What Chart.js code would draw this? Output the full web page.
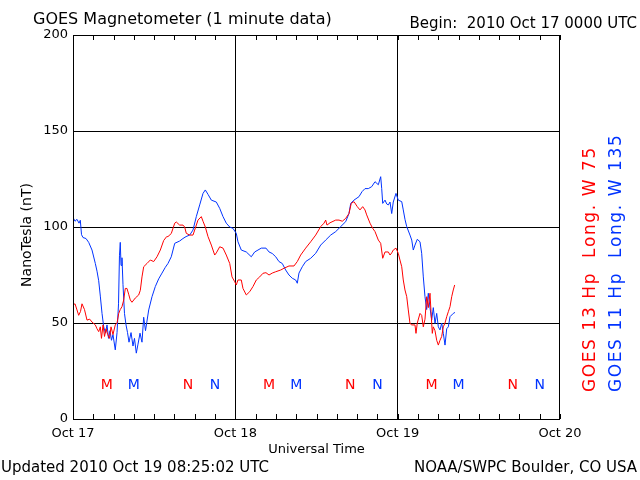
<!DOCTYPE html>
<html>
<head>
<meta charset="utf-8">
<title>GOES Magnetometer</title>
<script src="https://cdn.jsdelivr.net/npm/chart.js@4.4.1/dist/chart.umd.min.js"></script>
<style>
    html, body { margin: 0; padding: 0; background: #fff; }
    canvas { display: block; }
</style>
</head>
<body>
<canvas id="magChart" width="640" height="480"></canvas>
<script>
// Hours since 2010 Oct 17 00:00 UT, values in nT
const dayLabels = ['Oct 17', 'Oct 18', 'Oct 19', 'Oct 20'];

const redHours = [0,0.30,0.59,0.84,1.11,1.33,1.70,2.07,2.47,2.81,
    3.30,3.55,3.80,4.04,4.21,4.44,4.66,4.88,5.13,5.40,
    5.62,5.91,6.25,6.51,6.76,6.99,7.24,7.50,7.73,7.98,
    8.23,8.47,8.72,9.21,9.71,9.95,10.20,10.45,10.94,11.43,
    11.93,12.42,12.91,13.41,13.85,14.04,14.53,15.04,15.27,15.77,
    16.26,16.51,16.75,17.25,17.74,17.99,18.48,18.97,19.22,19.56,
    19.96,20.45,20.95,21.19,21.69,22.18,22.66,23.17,23.51,23.91,
    24.14,24.39,24.88,25.13,25.62,26.12,26.61,27.10,27.60,28.09,
    28.53,28.98,29.46,29.97,30.71,31.19,31.93,32.67,33.16,33.66,
    34.40,35.14,35.88,36.62,37.11,37.36,37.55,38.00,38.84,39.33,
    39.81,40.32,40.80,41.14,41.54,42.03,42.43,42.83,43.17,43.42,
    43.91,44.31,44.65,45.14,45.49,45.79,46.13,46.62,46.87,47.12,
    47.35,47.75,48.09,48.34,48.60,48.83,49.08,49.34,49.57,49.82,
    50.08,50.56,50.71,50.90,51.30,51.55,51.79,52.04,52.29,52.53,
    52.78,52.93,53.12,53.27,53.52,53.77,54.01,54.26,54.51,54.75,
    55.00,55.25,55.49,55.74,55.99,56.22,56.43];
const redValues = [59.4,60,56.8,54,56,60,57,51.5,52,50.5,
    49,47,45.5,48,42,49,43,47,44,42,
    48,44,49,50,55,57,58.5,62,68,68,
    65,62,60.8,63,64.6,67,74,79.3,81,82.8,
    82,84.5,88,93,95,95,96.6,102,102.6,101,
    101,100,96.7,95.8,95.8,98.4,103.6,105.4,103,100,
    95,90.6,85.4,86.5,89.7,89,85.4,81,74,71.5,
    69.8,72.4,72.4,68,64.6,66.3,69,72.4,74,75.9,
    76.2,75,76,76.7,77.6,78.5,79.7,79.7,82,85.4,
    89,92.3,95.8,100.2,102,103.6,101,102.2,103.6,103.6,
    103,104.5,107,112.3,113.2,110.6,108.9,110.6,108.9,106.3,
    102,99.3,97.6,93.2,91.5,83.7,87,87,85.4,86.5,
    88,89,86.3,82.8,79.3,72.4,67.2,63.7,56.8,49.8,
    49,49,44.6,50,55,54,48,52,63.7,58,
    65.5,56,44.6,48,46,41,38.5,41,43,48,
    50,53.3,55.9,58.5,63.7,67.2,69.8];

const blueHours = [0,0.30,0.59,0.89,1.08,1.26,1.48,1.92,2.32,2.81,
    3.30,3.55,3.80,4.04,4.29,4.54,4.80,5.03,5.25,5.47,
    5.69,5.91,6.25,6.51,6.73,6.87,6.99,7.10,7.24,7.39,
    7.61,7.84,8.06,8.28,8.58,8.87,9.09,9.36,9.61,9.91,
    10.20,10.45,10.72,11.19,11.68,12.17,12.67,13.16,13.65,14.04,
    14.53,15.04,15.77,16.26,16.71,17.25,17.74,18.23,18.73,19.22,
    19.56,19.96,20.45,21.19,21.69,22.18,22.66,23.17,23.65,24.14,
    24.39,24.88,25.62,26.36,26.86,27.35,27.84,28.53,28.98,29.46,
    29.97,30.45,30.94,31.44,31.93,32.42,32.92,33.16,33.41,33.90,
    34.40,35.14,35.88,36.62,37.36,38.10,38.84,39.58,40.32,40.80,
    41.06,41.54,42.28,42.73,43.17,43.66,44.16,44.65,45.14,45.49,
    45.64,45.79,46.13,46.38,46.62,46.87,47.12,47.35,47.75,48.09,
    48.60,48.83,49.08,49.34,49.82,50.08,50.31,50.56,50.90,51.30,
    51.55,51.79,52.04,52.29,52.53,52.78,53.03,53.27,53.52,53.77,
    54.01,54.26,54.51,54.75,55.00,55.25,55.49,55.74,56.22,56.47];
const blueValues = [105,103,104,102,103.5,96,94.5,94,92,88,
    81,77,72,64,55,48,44.7,49,42,46,
    41,44,36,45,60,85,92,80,84,70,
    55,49,45,40,45,38,42,34.3,39,44.7,
    40,53,46,56.8,63.7,69,73,76,79,81,
    84.5,91.5,92.7,94,95,95.8,98.4,105.4,111.5,117.5,
    119.3,117,114,113,109.7,105.4,102,100,99.3,96.7,
    92.3,88,87,84.5,87,88,89,89,87,86.2,
    84.5,82,81,77.6,75,73.3,72.4,70.7,76,79.3,
    82,83.7,86.3,90.6,93.2,95.8,97.6,100.2,102.8,107,
    112.3,114,115.8,118.4,120,120,121,123.6,122,126.2,
    120,112.3,114,112,111.5,113,107,113,117.5,114,
    113.2,108.9,104,100.2,95.8,93.2,88,90.6,93.6,92.3,
    86.3,74,63.7,57,65.5,58,51.6,58,49.8,55,
    48,46.4,50,44.6,38.5,47,48,53.3,55,55.5];

// local midnight (M) / noon (N) for each satellite
const redMarkHours = [5, 17, 29, 41, 53, 65];
const blueMarkHours = [9, 21, 33, 45, 57, 69];
const markLabels = ['M', 'N', 'M', 'N', 'M', 'N'];
const markValue = 17.7;

const RED = '#ff0000';
const BLUE = '#0033ff';
const FONT = '"DejaVu Sans", sans-serif';

const toPoints = (hours, values) => hours.map((h, i) => ({ x: h, y: values[i] }));

// frame, minor ticks, M/N marks and all the free text
const decorations = {
    id: 'decorations',
    afterDraw(chart) {
        const { ctx, chartArea: a, scales } = chart;
        ctx.save();
        ctx.strokeStyle = '#000';
        ctx.lineWidth = 1;
        ctx.strokeRect(a.left + 0.5, a.top + 0.5, a.right - a.left - 1, a.bottom - a.top);

        ctx.beginPath();
        scales.x.ticks.forEach(t => {
            const px = Math.round(scales.x.getPixelForValue(t.value)) + 0.5;
            ctx.moveTo(px, a.bottom);
            ctx.lineTo(px, a.bottom - 5);
            ctx.moveTo(px, a.top);
            ctx.lineTo(px, a.top + 5);
        });
        ctx.stroke();

        ctx.font = '14px ' + FONT;
        ctx.textAlign = 'center';
        ctx.textBaseline = 'middle';
        const my = scales.y.getPixelForValue(markValue);
        redMarkHours.forEach((h, i) => {
            ctx.fillStyle = RED;
            ctx.fillText(markLabels[i], scales.x.getPixelForValue(h), my);
        });
        blueMarkHours.forEach((h, i) => {
            ctx.fillStyle = BLUE;
            ctx.fillText(markLabels[i], scales.x.getPixelForValue(h), my);
        });

        ctx.fillStyle = '#000';
        ctx.textBaseline = 'alphabetic';
        ctx.font = '16px ' + FONT;
        ctx.textAlign = 'left';
        ctx.fillText('GOES Magnetometer (1 minute data)', 33, 24);
        ctx.font = '15px ' + FONT;
        ctx.textAlign = 'right';
        ctx.fillText('Begin:  2010 Oct 17 0000 UTC', 637, 28);

        ctx.textAlign = 'left';
        ctx.fillText('Updated 2010 Oct 19 08:25:02 UTC', 1, 472);
        ctx.textAlign = 'right';
        ctx.fillText('NOAA/SWPC Boulder, CO USA', 637, 472);

        ctx.font = '13px ' + FONT;
        ctx.textAlign = 'center';
        ctx.fillText('Universal Time', (a.left + a.right) / 2, 453);

        ctx.save();
        ctx.translate(27, 235);
        ctx.rotate(-Math.PI / 2);
        ctx.font = '14px ' + FONT;
        ctx.textAlign = 'center';
        ctx.textBaseline = 'middle';
        ctx.fillText('NanoTesla (nT)', 0, 0);
        ctx.restore();

        ctx.font = '17px ' + FONT;
        ctx.letterSpacing = '1.6px';
        ctx.textAlign = 'left';
        [['GOES 13 Hp  Long. W 75', RED, 595], ['GOES 11 Hp  Long. W 135', BLUE, 621]].forEach(([txt, col, x]) => {
            ctx.save();
            ctx.translate(x, 392);
            ctx.rotate(-Math.PI / 2);
            ctx.fillStyle = col;
            ctx.fillText(txt, 0, 0);
            ctx.restore();
        });
        ctx.restore();
    }
};

new Chart(document.getElementById('magChart'), {
    type: 'line',
    data: {
        datasets: [
            {
                label: 'GOES 13',
                data: toPoints(redHours, redValues),
                borderColor: RED,
                borderWidth: 1,
                pointRadius: 0,
                tension: 0
            },
            {
                label: 'GOES 11',
                data: toPoints(blueHours, blueValues),
                borderColor: BLUE,
                borderWidth: 1,
                pointRadius: 0,
                tension: 0
            }
        ]
    },
    options: {
        responsive: false,
        animation: false,
        devicePixelRatio: 1,
        layout: { padding: { top: 35, right: 80, bottom: 0, left: 0 } },
        plugins: { legend: { display: false }, tooltip: { enabled: false } },
        scales: {
            x: {
                type: 'linear',
                min: 0,
                max: 72,
                afterFit: s => { s.height = 61; },
                border: { display: false },
                grid: {
                    drawTicks: false,
                    color: c => (c.tick && c.tick.value > 0 && c.tick.value < 72 && c.tick.value % 24 === 0) ? '#000' : 'rgba(0,0,0,0)'
                },
                ticks: {
                    stepSize: 3,
                    autoSkip: false,
                    maxRotation: 0,
                    padding: 7,
                    color: '#000',
                    font: { family: FONT, size: 13 },
                    callback: v => v % 24 === 0 ? dayLabels[v / 24] : ''
                }
            },
            y: {
                min: 0,
                max: 200,
                afterFit: s => { s.width = 73; },
                border: { display: false },
                grid: {
                    drawTicks: false,
                    color: c => (c.tick && c.tick.value > 0 && c.tick.value < 200) ? '#000' : 'rgba(0,0,0,0)'
                },
                ticks: {
                    stepSize: 50,
                    padding: 5,
                    color: '#000',
                    font: { family: FONT, size: 13 }
                }
            }
        }
    },
    plugins: [decorations]
});
</script>
</body>
</html>
